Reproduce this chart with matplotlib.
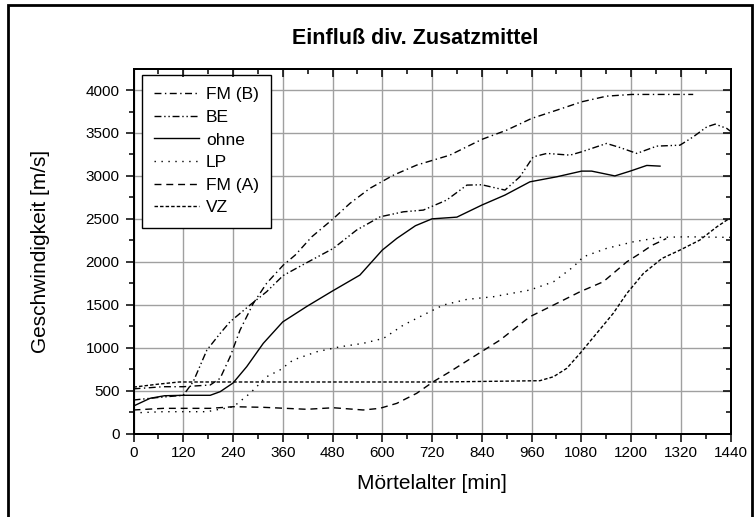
import matplotlib
matplotlib.use('Agg')
import matplotlib.pyplot as plt
from matplotlib.patches import Rectangle
from matplotlib.ticker import MultipleLocator

plt.rcParams['font.family'] = ['Liberation Sans', 'DejaVu Sans']

# Mörtelalter [min] and Geschwindigkeit [m/s]
t_fmb = [0, 72, 120, 185, 209, 233, 257, 289, 321, 361, 390, 430, 480, 522, 570,
         627, 683, 763, 840, 900, 960, 1021, 1081, 1141, 1202, 1262, 1350]
v_fmb = [520, 545, 545, 565, 643, 894, 1205, 1516, 1749, 1960, 2078, 2291, 2494,
         2680, 2855, 3009, 3126, 3242, 3425, 3533, 3669, 3766, 3863, 3929, 3949,
         3949, 3949]

t_be = [0, 60, 120, 144, 177, 209, 233, 281, 321, 361, 418, 482, 538, 595, 651,
        699, 755, 804, 840, 896, 932, 964, 997, 1053, 1081, 1141, 1173, 1214,
        1262, 1318, 1350, 1383, 1403, 1431, 1440]
v_be = [390, 420, 445, 603, 972, 1166, 1302, 1496, 1651, 1840, 1990, 2156, 2369,
        2524, 2582, 2602, 2718, 2893, 2897, 2835, 2990, 3222, 3262, 3242, 3281,
        3378, 3331, 3262, 3347, 3358, 3455, 3572, 3603, 3553, 3520]

t_ohne = [0, 40, 75, 120, 185, 209, 240, 273, 313, 360, 418, 480, 546, 600, 635,
          680, 720, 780, 840, 896, 956, 1021, 1081, 1105, 1161, 1198, 1238, 1270]
v_ohne = [320, 410, 440, 445, 445, 487, 588, 778, 1050, 1300, 1480, 1660, 1845,
          2136, 2272, 2420, 2500, 2520, 2660, 2777, 2931, 2990, 3056, 3056, 3000,
          3056, 3122, 3114]

t_lp = [0, 72, 177, 241, 281, 321, 353, 385, 442, 498, 554, 603, 651, 699, 747,
        804, 868, 956, 1013, 1061, 1085, 1141, 1206, 1270, 1334, 1440]
v_lp = [240, 254, 254, 312, 468, 661, 739, 856, 952, 1010, 1050, 1108, 1263,
        1380, 1496, 1562, 1593, 1671, 1767, 1942, 2058, 2156, 2233, 2284, 2291,
        2284]

t_fma = [0, 72, 185, 241, 313, 418, 482, 554, 594, 635, 683, 723, 763, 820, 884,
         956, 1013, 1077, 1133, 1190, 1222, 1250, 1285]
v_fma = [274, 293, 293, 312, 305, 282, 300, 274, 293, 351, 468, 603, 719, 894,
         1088, 1360, 1496, 1651, 1767, 2000, 2098, 2190, 2270]

t_vz = [0, 60, 110, 739, 980, 1013, 1045, 1077, 1117, 1157, 1190, 1230, 1275,
        1318, 1366, 1407, 1431, 1440]
v_vz = [540, 575, 600, 600, 615, 661, 759, 933, 1166, 1399, 1632, 1865, 2040,
        2136, 2253, 2407, 2485, 2500]

fig = plt.figure(figsize=(7.56, 5.17), dpi=100, facecolor='white')
ax = fig.add_axes([0.1766, 0.1615, 0.7897, 0.705])

lw = 1.0
ax.plot(t_fmb, v_fmb, 'k', lw=lw, ls=(0, (5, 2.5, 1, 2.5)), label='FM (B)')
ax.plot(t_be, v_be, 'k', lw=lw, ls=(0, (5, 2, 1, 2, 1, 2)), label='BE')
ax.plot(t_ohne, v_ohne, 'k', lw=lw, ls='-', label='ohne')
ax.plot(t_lp, v_lp, 'k', lw=lw, ls=(0, (1, 4)), label='LP')
ax.plot(t_fma, v_fma, 'k', lw=lw, ls=(0, (5, 3.5)), label='FM (A)')
ax.plot(t_vz, v_vz, 'k', lw=lw, ls=(0, (2.5, 1.5)), label='VZ')

ax.set_xlim(0, 1440)
ax.set_ylim(0, 4245)
ax.xaxis.set_major_locator(MultipleLocator(120))
ax.xaxis.set_minor_locator(MultipleLocator(60))
ax.yaxis.set_major_locator(MultipleLocator(500))
ax.yaxis.set_minor_locator(MultipleLocator(250))

ax.grid(True, which='major', color='#a0a0a0', lw=1.0, zorder=0)
ax.set_axisbelow(True)

for s in ax.spines.values():
    s.set_linewidth(1.3)

# left/bottom ticks point out, top/right ticks point in
ax.tick_params(axis='both', which='both', labelsize=11, width=1.1, pad=3)
ax.tick_params(axis='both', which='major', length=6)
ax.tick_params(axis='both', which='minor', length=3.5)
ax.tick_params(axis='x', which='both', direction='out', top=False)
ax.tick_params(axis='y', which='both', direction='out', right=False)
ax.tick_params(axis='y', which='major', pad=4)

ax2 = ax.twinx()
ax2.set_ylim(ax.get_ylim())
ax2.yaxis.set_major_locator(MultipleLocator(500))
ax2.yaxis.set_minor_locator(MultipleLocator(250))
ax2.tick_params(axis='y', which='both', direction='in', labelright=False, width=1.1)
ax2.tick_params(axis='y', which='major', length=6)
ax2.tick_params(axis='y', which='minor', length=3.5)
ax3 = ax.twiny()
ax3.set_xlim(ax.get_xlim())
ax3.xaxis.set_major_locator(MultipleLocator(120))
ax3.xaxis.set_minor_locator(MultipleLocator(60))
ax3.tick_params(axis='x', which='both', direction='in', labeltop=False, width=1.1)
ax3.tick_params(axis='x', which='major', length=6)
ax3.tick_params(axis='x', which='minor', length=3.5)
for a in (ax2, ax3):
    for s in a.spines.values():
        s.set_linewidth(1.3)

ax.set_xlabel('Mörtelalter [min]', fontsize=15, labelpad=10)
ax.set_ylabel('Geschwindigkeit [m/s]', fontsize=15, labelpad=26)
fig.text(0.549, 0.9246, 'Einfluß div. Zusatzmittel', fontsize=15.5,
         fontweight='bold', ha='center', va='center')

leg = ax.legend(loc='upper left', bbox_to_anchor=(0.0137, 0.9835),
                borderaxespad=0, fontsize=12.5, fancybox=False, framealpha=1,
                edgecolor='black', handlelength=2.6, handletextpad=0.4,
                labelspacing=0.43, borderpad=0.7)
leg.get_frame().set_linewidth(1.0)
leg.set_zorder(5)

# frame round the whole picture (its bottom edge lies below the picture)
fig.patches.append(Rectangle((8 / 756, -5 / 517), 744 / 756, 517 / 517,
                             transform=fig.transFigure, fill=False,
                             edgecolor='black', lw=2))

fig.savefig('out.png', dpi=100, facecolor='white')
